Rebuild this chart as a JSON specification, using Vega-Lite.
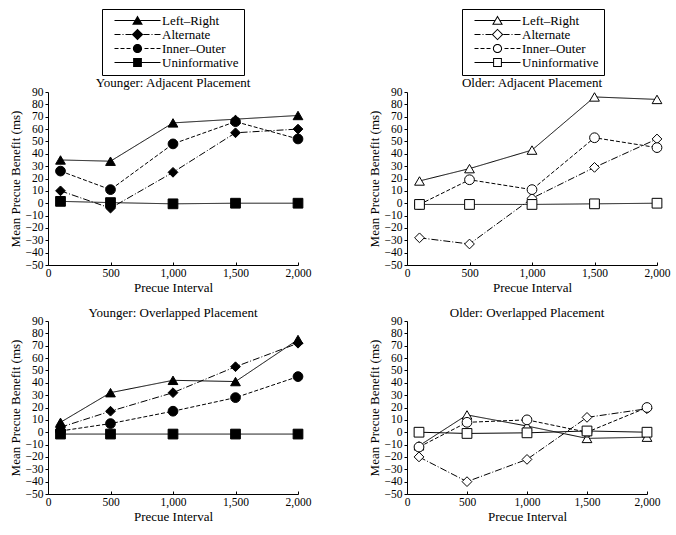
{
  "$schema": "https://vega.github.io/schema/vega-lite/v6.json",
  "padding": {"left": 9, "top": 8, "right": 5, "bottom": 5},
  "background": "white",
  "config": {
    "font": "Liberation Serif",
    "view": {"stroke": null},
    "axis": {
      "domainColor": "black", "tickColor": "black", "labelColor": "black", "titleColor": "black",
      "labelFont": "Liberation Serif", "titleFont": "Liberation Serif",
      "labelFontSize": 11.5, "titleFontSize": 13, "titleFontWeight": "normal",
      "grid": false, "tickSize": 3, "labelPadding": 2, "labelFlush": false, "labelOverlap": false, "titlePadding": 3
    },
    "axisX": {"tickSize": -3, "labelPadding": 5},
    "title": {"font": "Liberation Serif", "fontSize": 13, "fontWeight": "normal", "color": "black", "frame": "group", "anchor": "middle", "offset": -5},
    "legend": {
      "labelFont": "Liberation Serif", "labelFontSize": 13, "labelColor": "black",
      "symbolSize": 64, "symbolOffset": 24, "labelOffset": 18, "padding": 5,
      "strokeColor": "black", "rowPadding": 0, "symbolOpacity": 1
    }
  },
  "datasets": {
    "d": [
      {"age": "Younger", "place": "Adjacent", "series": "Left–Right", "interval": 100, "benefit": 35},
      {"age": "Younger", "place": "Adjacent", "series": "Left–Right", "interval": 500, "benefit": 34},
      {"age": "Younger", "place": "Adjacent", "series": "Left–Right", "interval": 1000, "benefit": 65},
      {"age": "Younger", "place": "Adjacent", "series": "Left–Right", "interval": 1500, "benefit": 68},
      {"age": "Younger", "place": "Adjacent", "series": "Left–Right", "interval": 2000, "benefit": 71},
      {"age": "Younger", "place": "Adjacent", "series": "Alternate", "interval": 100, "benefit": 10},
      {"age": "Younger", "place": "Adjacent", "series": "Alternate", "interval": 500, "benefit": -4},
      {"age": "Younger", "place": "Adjacent", "series": "Alternate", "interval": 1000, "benefit": 25},
      {"age": "Younger", "place": "Adjacent", "series": "Alternate", "interval": 1500, "benefit": 57},
      {"age": "Younger", "place": "Adjacent", "series": "Alternate", "interval": 2000, "benefit": 60},
      {"age": "Younger", "place": "Adjacent", "series": "Inner–Outer", "interval": 100, "benefit": 26},
      {"age": "Younger", "place": "Adjacent", "series": "Inner–Outer", "interval": 500, "benefit": 11},
      {"age": "Younger", "place": "Adjacent", "series": "Inner–Outer", "interval": 1000, "benefit": 48},
      {"age": "Younger", "place": "Adjacent", "series": "Inner–Outer", "interval": 1500, "benefit": 66},
      {"age": "Younger", "place": "Adjacent", "series": "Inner–Outer", "interval": 2000, "benefit": 52},
      {"age": "Younger", "place": "Adjacent", "series": "Uninformative", "interval": 100, "benefit": 1.5},
      {"age": "Younger", "place": "Adjacent", "series": "Uninformative", "interval": 500, "benefit": 0.5},
      {"age": "Younger", "place": "Adjacent", "series": "Uninformative", "interval": 1000, "benefit": -0.5},
      {"age": "Younger", "place": "Adjacent", "series": "Uninformative", "interval": 1500, "benefit": 0},
      {"age": "Younger", "place": "Adjacent", "series": "Uninformative", "interval": 2000, "benefit": 0},
      {"age": "Older", "place": "Adjacent", "series": "Left–Right", "interval": 100, "benefit": 18},
      {"age": "Older", "place": "Adjacent", "series": "Left–Right", "interval": 500, "benefit": 28},
      {"age": "Older", "place": "Adjacent", "series": "Left–Right", "interval": 1000, "benefit": 43},
      {"age": "Older", "place": "Adjacent", "series": "Left–Right", "interval": 1500, "benefit": 86},
      {"age": "Older", "place": "Adjacent", "series": "Left–Right", "interval": 2000, "benefit": 84},
      {"age": "Older", "place": "Adjacent", "series": "Alternate", "interval": 100, "benefit": -28},
      {"age": "Older", "place": "Adjacent", "series": "Alternate", "interval": 500, "benefit": -33},
      {"age": "Older", "place": "Adjacent", "series": "Alternate", "interval": 1000, "benefit": 4},
      {"age": "Older", "place": "Adjacent", "series": "Alternate", "interval": 1500, "benefit": 29},
      {"age": "Older", "place": "Adjacent", "series": "Alternate", "interval": 2000, "benefit": 52},
      {"age": "Older", "place": "Adjacent", "series": "Inner–Outer", "interval": 100, "benefit": -1},
      {"age": "Older", "place": "Adjacent", "series": "Inner–Outer", "interval": 500, "benefit": 19},
      {"age": "Older", "place": "Adjacent", "series": "Inner–Outer", "interval": 1000, "benefit": 11},
      {"age": "Older", "place": "Adjacent", "series": "Inner–Outer", "interval": 1500, "benefit": 53},
      {"age": "Older", "place": "Adjacent", "series": "Inner–Outer", "interval": 2000, "benefit": 45},
      {"age": "Older", "place": "Adjacent", "series": "Uninformative", "interval": 100, "benefit": -1},
      {"age": "Older", "place": "Adjacent", "series": "Uninformative", "interval": 500, "benefit": -1},
      {"age": "Older", "place": "Adjacent", "series": "Uninformative", "interval": 1000, "benefit": -1},
      {"age": "Older", "place": "Adjacent", "series": "Uninformative", "interval": 1500, "benefit": -0.5},
      {"age": "Older", "place": "Adjacent", "series": "Uninformative", "interval": 2000, "benefit": 0},
      {"age": "Younger", "place": "Overlapped", "series": "Left–Right", "interval": 100, "benefit": 8},
      {"age": "Younger", "place": "Overlapped", "series": "Left–Right", "interval": 500, "benefit": 32},
      {"age": "Younger", "place": "Overlapped", "series": "Left–Right", "interval": 1000, "benefit": 42},
      {"age": "Younger", "place": "Overlapped", "series": "Left–Right", "interval": 1500, "benefit": 41},
      {"age": "Younger", "place": "Overlapped", "series": "Left–Right", "interval": 2000, "benefit": 75},
      {"age": "Younger", "place": "Overlapped", "series": "Alternate", "interval": 100, "benefit": 4},
      {"age": "Younger", "place": "Overlapped", "series": "Alternate", "interval": 500, "benefit": 17},
      {"age": "Younger", "place": "Overlapped", "series": "Alternate", "interval": 1000, "benefit": 32},
      {"age": "Younger", "place": "Overlapped", "series": "Alternate", "interval": 1500, "benefit": 53},
      {"age": "Younger", "place": "Overlapped", "series": "Alternate", "interval": 2000, "benefit": 72},
      {"age": "Younger", "place": "Overlapped", "series": "Inner–Outer", "interval": 100, "benefit": 1},
      {"age": "Younger", "place": "Overlapped", "series": "Inner–Outer", "interval": 500, "benefit": 7},
      {"age": "Younger", "place": "Overlapped", "series": "Inner–Outer", "interval": 1000, "benefit": 17},
      {"age": "Younger", "place": "Overlapped", "series": "Inner–Outer", "interval": 1500, "benefit": 28},
      {"age": "Younger", "place": "Overlapped", "series": "Inner–Outer", "interval": 2000, "benefit": 45},
      {"age": "Younger", "place": "Overlapped", "series": "Uninformative", "interval": 100, "benefit": -1.5},
      {"age": "Younger", "place": "Overlapped", "series": "Uninformative", "interval": 500, "benefit": -1.5},
      {"age": "Younger", "place": "Overlapped", "series": "Uninformative", "interval": 1000, "benefit": -1.5},
      {"age": "Younger", "place": "Overlapped", "series": "Uninformative", "interval": 1500, "benefit": -1.5},
      {"age": "Younger", "place": "Overlapped", "series": "Uninformative", "interval": 2000, "benefit": -1.5},
      {"age": "Older", "place": "Overlapped", "series": "Left–Right", "interval": 100, "benefit": -11},
      {"age": "Older", "place": "Overlapped", "series": "Left–Right", "interval": 500, "benefit": 14},
      {"age": "Older", "place": "Overlapped", "series": "Left–Right", "interval": 1000, "benefit": 5},
      {"age": "Older", "place": "Overlapped", "series": "Left–Right", "interval": 1500, "benefit": -5},
      {"age": "Older", "place": "Overlapped", "series": "Left–Right", "interval": 2000, "benefit": -4},
      {"age": "Older", "place": "Overlapped", "series": "Alternate", "interval": 100, "benefit": -20},
      {"age": "Older", "place": "Overlapped", "series": "Alternate", "interval": 500, "benefit": -40},
      {"age": "Older", "place": "Overlapped", "series": "Alternate", "interval": 1000, "benefit": -22},
      {"age": "Older", "place": "Overlapped", "series": "Alternate", "interval": 1500, "benefit": 12},
      {"age": "Older", "place": "Overlapped", "series": "Alternate", "interval": 2000, "benefit": 19},
      {"age": "Older", "place": "Overlapped", "series": "Inner–Outer", "interval": 100, "benefit": -12},
      {"age": "Older", "place": "Overlapped", "series": "Inner–Outer", "interval": 500, "benefit": 8},
      {"age": "Older", "place": "Overlapped", "series": "Inner–Outer", "interval": 1000, "benefit": 10},
      {"age": "Older", "place": "Overlapped", "series": "Inner–Outer", "interval": 1500, "benefit": 0},
      {"age": "Older", "place": "Overlapped", "series": "Inner–Outer", "interval": 2000, "benefit": 20},
      {"age": "Older", "place": "Overlapped", "series": "Uninformative", "interval": 100, "benefit": 0},
      {"age": "Older", "place": "Overlapped", "series": "Uninformative", "interval": 500, "benefit": -1},
      {"age": "Older", "place": "Overlapped", "series": "Uninformative", "interval": 1000, "benefit": -0.5},
      {"age": "Older", "place": "Overlapped", "series": "Uninformative", "interval": 1500, "benefit": 1},
      {"age": "Older", "place": "Overlapped", "series": "Uninformative", "interval": 2000, "benefit": 0}
    ]
  },
  "data": {"name": "d"},
  "spacing": 12,
  "resolve": {"scale": {"shape": "independent", "strokeDash": "independent"}, "legend": {"shape": "independent"}},
  "vconcat": [
    {
      "spacing": 57,
      "resolve": {"scale": {"shape": "independent", "strokeDash": "independent"}, "legend": {"shape": "independent"}},
      "hconcat": [
        {
          "width": 250, "height": 173,
          "title": {"text": "Younger: Adjacent Placement", "offset": -81},
          "transform": [{"filter": "datum.age === 'Younger' && datum.place === 'Adjacent'"}],
          "encoding": {
            "x": {"field": "interval", "type": "quantitative", "scale": {"domain": [0, 2000], "nice": false}, "axis": {"title": "Precue Interval", "values": [0, 500, 1000, 1500, 2000], "format": ",.0f"}},
            "y": {"field": "benefit", "type": "quantitative", "scale": {"domain": [-50, 90], "nice": false}, "axis": {"title": "Mean Precue Benefit (ms)", "values": [-50, -40, -30, -20, -10, 0, 10, 20, 30, 40, 50, 60, 70, 80, 90], "format": ".0f"}}
          },
          "resolve": {"scale": {"shape": "independent", "strokeDash": "independent"}, "legend": {"shape": "independent"}},
          "layer": [
            {"mark": {"type": "line", "color": "black", "strokeWidth": 1}, "encoding": {"strokeDash": {"field": "series", "type": "nominal", "scale": {"range": [[7, 2, 1, 2], [4, 2], [1, 0], [1, 0]]}, "legend": null}}},
            {"mark": {"type": "point", "filled": true, "fill": "black", "stroke": "black", "strokeWidth": 1, "opacity": 1, "size": 95},
             "encoding": {"shape": {"field": "series", "type": "nominal", "scale": {"domain": ["Left–Right", "Alternate", "Inner–Outer", "Uninformative"], "range": ["triangle-up", "diamond", "circle", "square"]}, "legend": null}}},
            {"transform": [{"filter": "false"}],
             "mark": {"type": "point", "filled": true, "fill": "black", "strokeWidth": 0, "opacity": 1, "size": 64},
             "encoding": {"shape": {"field": "series", "type": "nominal",
               "scale": {"domain": ["Left–Right", "Alternate", "Inner–Outer", "Uninformative"], "range": [
                 "M-5.75,-0.125H-0.73V0.125H-5.75ZM0.73,-0.125H5.75V0.125H0.73ZM0,-1.25L1.35,1.05L-1.35,1.05Z",
                 "M-5.75,-0.125H-4.25V0.125H-5.75ZM-3.75,-0.125H-3.5V0.125H-3.75ZM-3,-0.125H-1.45V0.125H-3ZM1.45,-0.125H3V0.125H1.45ZM3.5,-0.125H3.75V0.125H3.5ZM4.25,-0.125H5.75V0.125H4.25ZM0,-1.45L1.45,0L0,1.45L-1.45,0Z",
                 "M-5.75,-0.125H-4.75V0.125H-5.75ZM-4.25,-0.125H-3.25V0.125H-4.25ZM-2.75,-0.125H-1.75V0.125H-2.75ZM1.75,-0.125H2.75V0.125H1.75ZM3.25,-0.125H4.25V0.125H3.25ZM4.75,-0.125H5.75V0.125H4.75ZM1.15,0A1.15,1.15 0 1,1 -1.15,0A1.15,1.15 0 1,1 1.15,0Z",
                 "M-5.75,-0.125H-1.1V0.125H-5.75ZM1.1,-0.125H5.75V0.125H1.1ZM-1.1,-1.1H1.1V1.1H-1.1Z"]},
               "legend": {"title": null, "orient": "none", "legendX": 54, "legendY": -83, "symbolFillColor": "black", "symbolSize": 64, "symbolStrokeWidth": 0,
                 "encode": {"symbols": {"fill": {"value": "black"}, "size": {"value": 64}, "strokeWidth": {"value": 0}, "opacity": {"value": 1}}}}}}}
          ]
        },
        {
          "width": 250, "height": 173,
          "title": {"text": "Older: Adjacent Placement", "offset": -81},
          "transform": [{"filter": "datum.age === 'Older' && datum.place === 'Adjacent'"}],
          "encoding": {
            "x": {"field": "interval", "type": "quantitative", "scale": {"domain": [0, 2000], "nice": false}, "axis": {"title": "Precue Interval", "values": [0, 500, 1000, 1500, 2000], "format": ",.0f"}},
            "y": {"field": "benefit", "type": "quantitative", "scale": {"domain": [-50, 90], "nice": false}, "axis": {"title": "Mean Precue Benefit (ms)", "values": [-50, -40, -30, -20, -10, 0, 10, 20, 30, 40, 50, 60, 70, 80, 90], "format": ".0f"}}
          },
          "resolve": {"scale": {"shape": "independent", "strokeDash": "independent"}, "legend": {"shape": "independent"}},
          "layer": [
            {"mark": {"type": "line", "color": "black", "strokeWidth": 1}, "encoding": {"strokeDash": {"field": "series", "type": "nominal", "scale": {"range": [[7, 2, 1, 2], [4, 2], [1, 0], [1, 0]]}, "legend": null}}},
            {"mark": {"type": "point", "filled": true, "fill": "white", "stroke": "black", "strokeWidth": 1, "opacity": 1, "size": 95},
             "encoding": {"shape": {"field": "series", "type": "nominal", "scale": {"domain": ["Left–Right", "Alternate", "Inner–Outer", "Uninformative"], "range": ["triangle-up", "diamond", "circle", "square"]}, "legend": null}}},
            {"transform": [{"filter": "false"}],
             "mark": {"type": "point", "filled": true, "fill": "black", "strokeWidth": 0, "opacity": 1, "size": 64},
             "encoding": {"shape": {"field": "series", "type": "nominal",
               "scale": {"domain": ["Left–Right", "Alternate", "Inner–Outer", "Uninformative"], "range": [
                 "M-5.75,-0.125H-0.73V0.125H-5.75ZM0.73,-0.125H5.75V0.125H0.73ZM0,-1.25L1.35,1.05L-1.35,1.05ZM0,-0.757L-0.914,0.8L0.914,0.8Z",
                 "M-5.75,-0.125H-4.25V0.125H-5.75ZM-3.75,-0.125H-3.5V0.125H-3.75ZM-3,-0.125H-1.45V0.125H-3ZM1.45,-0.125H3V0.125H1.45ZM3.5,-0.125H3.75V0.125H3.5ZM4.25,-0.125H5.75V0.125H4.25ZM0,-1.45L1.45,0L0,1.45L-1.45,0ZM0,-1.096L-1.096,0L0,1.096L1.096,0Z",
                 "M-5.75,-0.125H-4.75V0.125H-5.75ZM-4.25,-0.125H-3.25V0.125H-4.25ZM-2.75,-0.125H-1.75V0.125H-2.75ZM1.75,-0.125H2.75V0.125H1.75ZM3.25,-0.125H4.25V0.125H3.25ZM4.75,-0.125H5.75V0.125H4.75ZM1.15,0A1.15,1.15 0 1,1 -1.15,0A1.15,1.15 0 1,1 1.15,0ZM0.9,0A0.9,0.9 0 1,0 -0.9,0A0.9,0.9 0 1,0 0.9,0Z",
                 "M-5.75,-0.125H-1.1V0.125H-5.75ZM1.1,-0.125H5.75V0.125H1.1ZM-1.1,-1.1H1.1V1.1H-1.1ZM-0.85,-0.85V0.85H0.85V-0.85Z"]},
               "legend": {"title": null, "orient": "none", "legendX": 55, "legendY": -83, "symbolFillColor": "black", "symbolSize": 64, "symbolStrokeWidth": 0,
                 "encode": {"symbols": {"fill": {"value": "black"}, "size": {"value": 64}, "strokeWidth": {"value": 0}, "opacity": {"value": 1}}}}}}}
          ]
        }
      ]
    },
    {
      "spacing": 57,
      "resolve": {"scale": {"shape": "independent", "strokeDash": "independent"}, "legend": {"shape": "independent"}},
      "hconcat": [
        {
          "width": 250, "height": 173,
          "title": {"text": "Younger: Overlapped Placement"},
          "transform": [{"filter": "datum.age === 'Younger' && datum.place === 'Overlapped'"}],
          "encoding": {
            "x": {"field": "interval", "type": "quantitative", "scale": {"domain": [0, 2000], "nice": false}, "axis": {"title": "Precue Interval", "values": [0, 500, 1000, 1500, 2000], "format": ",.0f"}},
            "y": {"field": "benefit", "type": "quantitative", "scale": {"domain": [-50, 90], "nice": false}, "axis": {"title": "Mean Precue Benefit (ms)", "values": [-50, -40, -30, -20, -10, 0, 10, 20, 30, 40, 50, 60, 70, 80, 90], "format": ".0f"}}
          },
          "layer": [
            {"mark": {"type": "line", "color": "black", "strokeWidth": 1}, "encoding": {"strokeDash": {"field": "series", "type": "nominal", "scale": {"range": [[7, 2, 1, 2], [4, 2], [1, 0], [1, 0]]}, "legend": null}}},
            {"mark": {"type": "point", "filled": true, "fill": "black", "stroke": "black", "strokeWidth": 1, "opacity": 1, "size": 95},
             "encoding": {"shape": {"field": "series", "type": "nominal", "scale": {"domain": ["Left–Right", "Alternate", "Inner–Outer", "Uninformative"], "range": ["triangle-up", "diamond", "circle", "square"]}, "legend": null}}}
          ]
        },
        {
          "width": 240, "height": 173,
          "title": {"text": "Older: Overlapped Placement"},
          "transform": [{"filter": "datum.age === 'Older' && datum.place === 'Overlapped'"}],
          "encoding": {
            "x": {"field": "interval", "type": "quantitative", "scale": {"domain": [0, 2000], "nice": false}, "axis": {"title": "Precue Interval", "values": [0, 500, 1000, 1500, 2000], "format": ",.0f"}},
            "y": {"field": "benefit", "type": "quantitative", "scale": {"domain": [-50, 90], "nice": false}, "axis": {"title": "Mean Precue Benefit (ms)", "values": [-50, -40, -30, -20, -10, 0, 10, 20, 30, 40, 50, 60, 70, 80, 90], "format": ".0f"}}
          },
          "layer": [
            {"mark": {"type": "line", "color": "black", "strokeWidth": 1}, "encoding": {"strokeDash": {"field": "series", "type": "nominal", "scale": {"range": [[7, 2, 1, 2], [4, 2], [1, 0], [1, 0]]}, "legend": null}}},
            {"mark": {"type": "point", "filled": true, "fill": "white", "stroke": "black", "strokeWidth": 1, "opacity": 1, "size": 95},
             "encoding": {"shape": {"field": "series", "type": "nominal", "scale": {"domain": ["Left–Right", "Alternate", "Inner–Outer", "Uninformative"], "range": ["triangle-up", "diamond", "circle", "square"]}, "legend": null}}}
          ]
        }
      ]
    }
  ]
}
